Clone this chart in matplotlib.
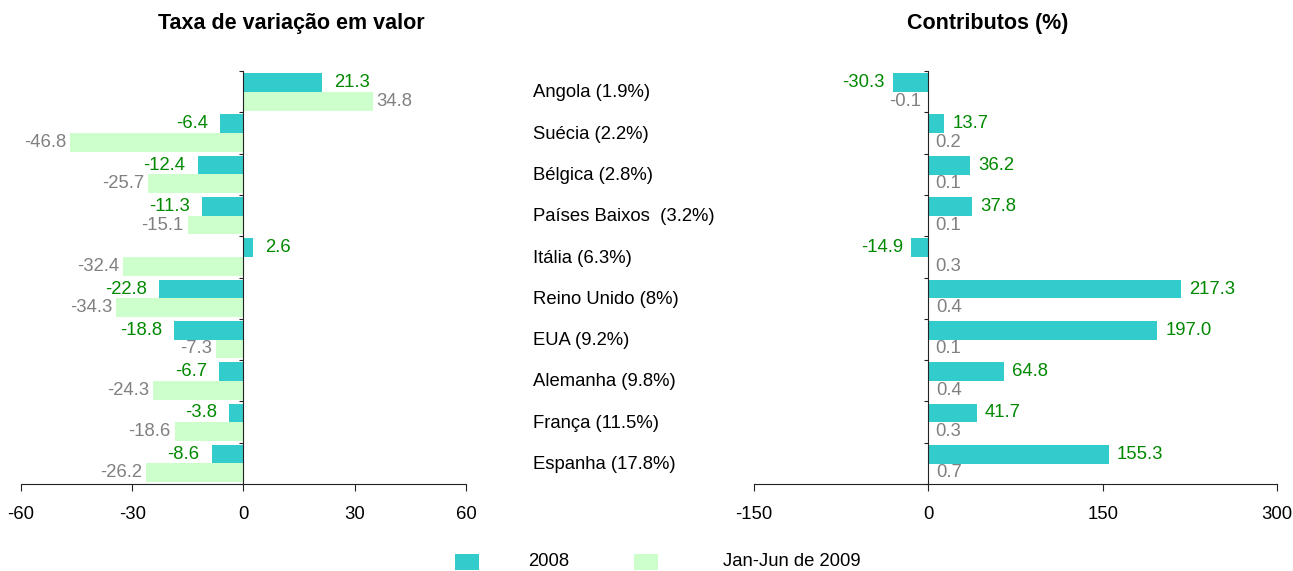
import matplotlib
matplotlib.use("Agg")
import matplotlib.pyplot as plt
import matplotlib.transforms as mtransforms
from matplotlib.patches import Rectangle
import numpy as np

plt.rcParams['font.family'] = ['Liberation Sans', 'DejaVu Sans']

categories = ["Angola (1.9%)", "Suécia (2.2%)", "Bélgica (2.8%)", "Países Baixos  (3.2%)",
              "Itália (6.3%)", "Reino Unido (8%)", "EUA (9.2%)", "Alemanha (9.8%)",
              "França (11.5%)", "Espanha (17.8%)"]
taxa_2008 = [21.3, -6.4, -12.4, -11.3, 2.6, -22.8, -18.8, -6.7, -3.8, -8.6]
taxa_2009 = [34.8, -46.8, -25.7, -15.1, -32.4, -34.3, -7.3, -24.3, -18.6, -26.2]
contrib_2008 = [-30.3, 13.7, 36.2, 37.8, -14.9, 217.3, 197.0, 64.8, 41.7, 155.3]
contrib_2009 = [-0.1, 0.2, 0.1, 0.1, 0.3, 0.4, 0.1, 0.4, 0.3, 0.7]
left_ticks = [-60, -30, 0, 30, 60]
right_ticks = [-150, 0, 150, 300]
series_names = ["2008", "Jan-Jun de 2009"]

C1 = '#33CCCC'
C2 = '#CCFFCC'
LC1 = '#008800'
LC2 = '#808080'
FS = 13.3
TFS = 15.5
W, H = 1293, 571

fig = plt.figure(figsize=(12.93, 5.71), dpi=100)
axL = fig.add_axes([21/W, 1-484/H, 445/W, 413/H])
axR = fig.add_axes([754/W, 1-484/H, 523/W, 413/H])

y = np.arange(len(categories))
h = 0.455

def setup(ax, ticks):
    ax.set_xlim(ticks[0], ticks[-1])
    ax.set_ylim(len(categories) - 0.5, -0.5)
    for s in ['top', 'right']:
        ax.spines[s].set_visible(False)
    ax.spines['left'].set_position(('data', 0))
    ax.spines['left'].set_zorder(5)
    ax.spines['left'].set_color('#222222')
    ax.spines['bottom'].set_color('#222222')
    ax.set_xticks(ticks)
    ax.set_xticklabels([str(t) for t in ticks], fontsize=FS)
    ax.set_yticks(np.arange(-0.5, len(categories) + 0.5, 1))
    ax.set_yticklabels([])
    ax.tick_params(axis='y', direction='out', length=3, color='#222222')
    ax.tick_params(axis='x', direction='out', length=5, pad=11, color='#222222')

def bars(ax, v1, v2, off1, off2):
    ax.barh(y - 0.22, v1, height=h, color=C1, zorder=2)
    ax.barh(y + 0.23, v2, height=h, color=C2, zorder=2)
    for i, (a, b) in enumerate(zip(v1, v2)):
        for val, yy, col, off in ((a, y[i] - 0.22, LC1, off1), (b, y[i] + 0.23, LC2, off2)):
            dx = off if val >= 0 else -off
            ax.annotate(f"{val:.1f}", (val, yy), xytext=(dx, 0), textcoords='offset pixels',
                        ha='left' if val >= 0 else 'right', va='center',
                        fontsize=FS, color=col)

setup(axL, left_ticks)
setup(axR, right_ticks)
bars(axL, taxa_2008, taxa_2009, 12, 4)
bars(axR, contrib_2008, contrib_2009, 8, 7)

# Category labels between the panels
trans = mtransforms.blended_transform_factory(fig.transFigure, axL.transData)
for i, c in enumerate(categories):
    fig.text(533/W, y[i] + 0.03, c, transform=trans, ha='left', va='center', fontsize=FS)

fig.text(291/W, 1-23/H, "Taxa de variação em valor", ha='center', va='center',
         fontsize=TFS, fontweight='bold')
fig.text(988/W, 1-23/H, "Contributos (%)", ha='center', va='center',
         fontsize=TFS, fontweight='bold')

# Legend
for (sx, tx), col, name in zip(((455, 528), (634, 723)), (C1, C2), series_names):
    fig.patches.append(Rectangle((sx/W, 1-570/H), 24/W, 16/H, transform=fig.transFigure,
                                 facecolor=col, edgecolor='none'))
    fig.text(tx/W, 1-562/H, name, ha='left', va='center', fontsize=FS)

fig.savefig("out.png", dpi=100)
